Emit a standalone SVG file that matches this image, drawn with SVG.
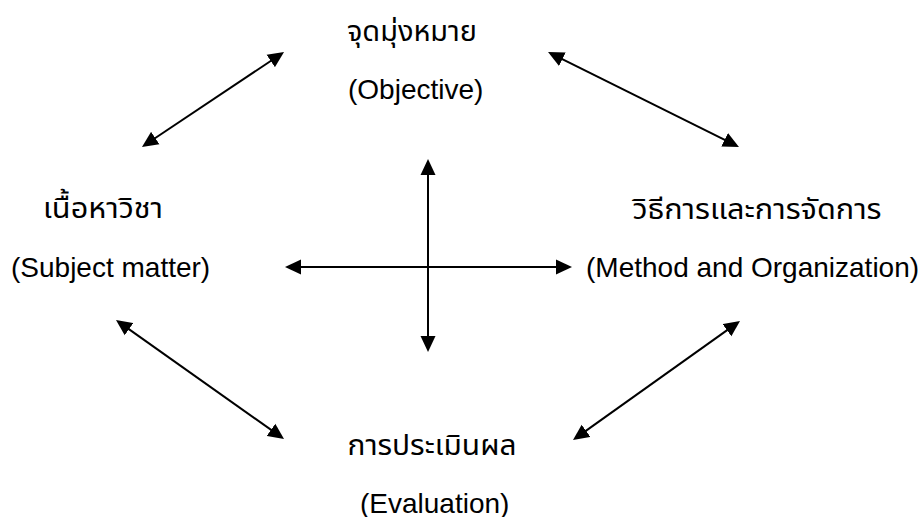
<svg xmlns="http://www.w3.org/2000/svg" width="924" height="517" viewBox="0 0 924 517">
<style>
  .th { font-family: "Liberation Sans", "Noto Sans Thai", "Noto Sans Thai Looped", "Garuda", "Loma", "Noto Sans", sans-serif; font-size: 29px; fill: #000; text-anchor: middle; }
  .en { font-family: "Liberation Sans", Arial, sans-serif; font-size: 28px; fill: #000; }
  .arr { stroke: #000; stroke-width: 2; fill: none; marker-start: url(#ah); marker-end: url(#ah); }
</style>
<defs>
  <marker id="ah" viewBox="0 0 16 16" refX="8" refY="8" markerWidth="16" markerHeight="16" markerUnits="userSpaceOnUse" orient="auto-start-reverse">
    <path d="M0,0.5 L16,8 L0,15.5 z" fill="#000"/>
  </marker>
</defs>
<rect width="924" height="517" fill="#fff"/>
<g id="objective">
  <text class="th" x="412" y="41" textLength="130" lengthAdjust="spacingAndGlyphs">จุดมุ่งหมาย</text>
  <text class="en" x="348" y="99">(Objective)</text>
</g>
<g id="subject">
  <text class="th" x="103" y="218" textLength="120" lengthAdjust="spacingAndGlyphs">เนื้อหาวิชา</text>
  <text class="en" x="11" y="277">(Subject matter)</text>
</g>
<g id="method">
  <text class="th" x="757" y="219" textLength="249" lengthAdjust="spacingAndGlyphs">วิธีการและการจัดการ</text>
  <text class="en" x="586" y="277">(Method and Organization)</text>
</g>
<g id="evaluation">
  <text class="th" x="432" y="455" textLength="169" lengthAdjust="spacingAndGlyphs">การประเมินผล</text>
  <text class="en" x="360" y="513">(Evaluation)</text>
</g>
<g id="connectors">
  <line class="arr" x1="148.6" y1="142.5" x2="277.4" y2="56.5"/>
  <line class="arr" x1="555.2" y1="55.6" x2="731.8" y2="143.4"/>
  <line class="arr" x1="428" y1="167" x2="428" y2="344"/>
  <line class="arr" x1="293" y1="267" x2="564" y2="267"/>
  <line class="arr" x1="122.5" y1="324.6" x2="277.5" y2="434.4"/>
  <line class="arr" x1="733.5" y1="325.6" x2="579.5" y2="435.4"/>
</g>
</svg>
